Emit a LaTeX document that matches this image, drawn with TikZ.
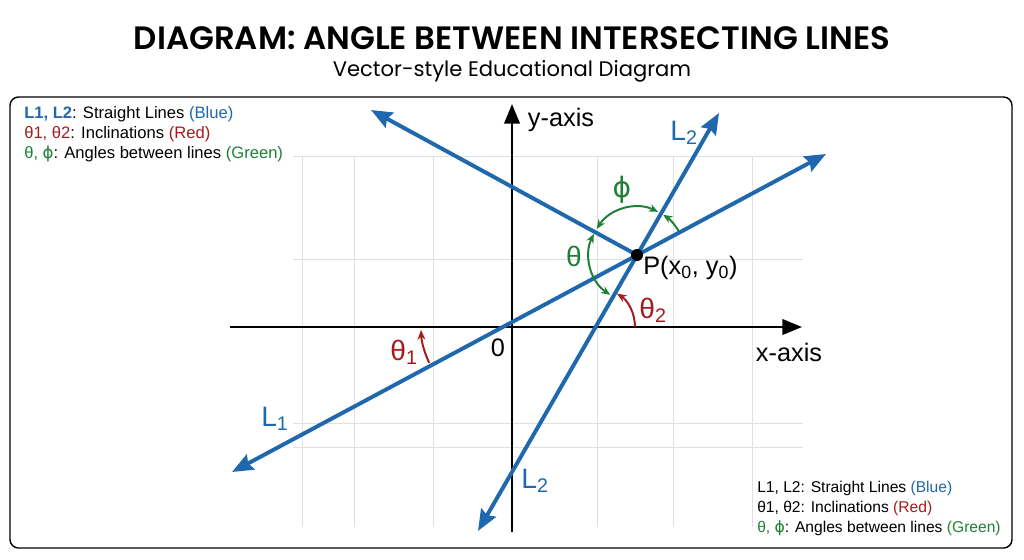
\documentclass[tikz,border=0pt]{standalone}
\usepackage{fontspec}
\setmainfont{Liberation Sans}
\newfontfamily\titlefont{Poppins}[BoldFont={Poppins SemiBold}]
\newfontfamily\symfont{DejaVu Sans}
\usetikzlibrary{arrows.meta}
\usetikzlibrary{positioning}

\definecolor{lineblue}{HTML}{1F68AE}
\definecolor{anglered}{HTML}{A31B1E}
\definecolor{anglegreen}{HTML}{1E7F36}
\definecolor{gridgray}{HTML}{E0E0E0}

\newcommand{\phisym}{{\symfont ϕ}}

\begin{document}
\begin{tikzpicture}[x=0.025cm,y=-0.025cm,
        blueline/.style={lineblue,line width=2.8pt,>={Stealth[length=15pt,width=12pt,inset=2pt]}},
        axisline/.style={black,line width=1.8pt,arrows=-{Triangle[length=14pt,width=11pt]}},
        greenarc/.style={anglegreen,line width=1.4pt,>={Stealth[length=6.5pt,width=5.5pt]}},
        redarc/.style={anglered,line width=1.4pt,arrows=-{Stealth[length=7pt,width=5.5pt]}},
        lbl/.style={font=\fontsize{18}{20}\selectfont,inner sep=0pt},
        legend/.style={align=left,inner sep=0pt,font=\fontsize{11.8}{14.2}\selectfont}]

            %\draw [help lines] (0,0) grid (1024,559);
            \useasboundingbox (0,0) rectangle (1024,559);

            \path   (512,38)  node (title) {\titlefont\bfseries\fontsize{23}{26}\selectfont DIAGRAM: ANGLE BETWEEN INTERSECTING LINES}
                    (512,71)  node (subtitle) {\titlefont\fontsize{15}{18}\selectfont Vector-style Educational Diagram};

            \draw[black,line width=1pt,rounded corners=6pt] (10,97) rectangle (1012,548);

            % grid
            \foreach \gx in {302,354,433,597,673,752}
                \draw[gridgray,line width=0.6pt] (\gx,156) -- (\gx,527);
            \foreach \gy in {156,259,423,447}
                \draw[gridgray,line width=0.6pt] (293,\gy) -- (803,\gy);

            % axes
            \coordinate (O) at (512,327);
            \coordinate (xl) at (230,327);
            \coordinate (xr) at (802,327);
            \coordinate (yb) at (512,532);
            \coordinate (yt) at (512,104);
            \draw[axisline] (xl) -- (xr);
            \draw[axisline] (yb) -- (yt);

            % lines through P
            \coordinate (P)  at (637,255);
            \coordinate (l1a) at (232,472);
            \coordinate (l1b) at (826,154);
            \coordinate (l2a) at (478,531);
            \coordinate (l2b) at (719,113);
            \coordinate (l3)  at (371,110);
            \coordinate (X1) at (503,327);
            \coordinate (X2) at (595,327);

            \draw[blueline,<->] (l1a) -- (l1b);
            \draw[blueline,<->] (l2a) -- (l2b);
            \draw[blueline,->] (P) -- (l3);

            % angles
            \draw[greenarc,->]  (P) ++(-29:48) arc[start angle=-29,end angle=-57,radius=48];
            \draw[greenarc,<->] (P) ++(-64:48) arc[start angle=-64,end angle=-147,radius=48];
            \draw[greenarc,<->] (P) ++(-154:48) arc[start angle=-154,end angle=-236,radius=48];
            \draw[redarc] (X2) ++(0:40) arc[start angle=0,end angle=-57,radius=40];
            \draw[redarc] (X1) ++(-206:82) arc[start angle=-206,end angle=-182,radius=82];

            \fill[black] (P) circle (6);

            % labels
            \path   (561,120) node (ylab) [lbl] {y-axis}
                    (789,352) node (xlab) [lbl] {x-axis}
                    (498,348) node (zero) [lbl] {0}
                    (643,268) node (plab) [lbl,anchor=west] {P(x\textsubscript{0}, y\textsubscript{0})}
                    (275,419) node (L1lab) [lbl,lineblue,font=\fontsize{20}{22}\selectfont] {L\textsubscript{1}}
                    (684,133) node (L2top) [lbl,lineblue,font=\fontsize{20}{22}\selectfont] {L\textsubscript{2}}
                    (535,481) node (L2bot) [lbl,lineblue,font=\fontsize{20}{22}\selectfont] {L\textsubscript{2}}
                    (404,352) node (th1) [lbl,anglered,font=\fontsize{20}{22}\selectfont] {θ\textsubscript{1}}
                    (653,310) node (th2) [lbl,anglered,font=\fontsize{20}{22}\selectfont] {θ\textsubscript{2}}
                    (574,256) node (th) [lbl,anglegreen,font=\fontsize{20}{22}\selectfont] {θ}
                    (622,190) node (ph) [lbl,anglegreen,font=\fontsize{20}{22}\selectfont] {\phisym};

            % legends
            \node (legtop) [legend,anchor=north west] at (24,106)
                {\textcolor{lineblue}{\bfseries L1, L2}: Straight Lines \textcolor{lineblue}{(Blue)}\\
                 \textcolor{anglered}{θ1, θ2}: Inclinations \textcolor{anglered}{(Red)}\\
                 \textcolor{anglegreen}{θ, \phisym}: Angles between lines \textcolor{anglegreen}{(Green)}};
            \node (legbot) [legend,anchor=north west,font=\fontsize{11.1}{14.2}\selectfont] at (757,481)
                {L1, L2: Straight Lines \textcolor{lineblue}{(Blue)}\\
                 θ1, θ2: Inclinations \textcolor{anglered}{(Red)}\\
                 \textcolor{anglegreen}{θ, \phisym}: Angles between lines \textcolor{anglegreen}{(Green)}};

\end{tikzpicture}
\end{document}
